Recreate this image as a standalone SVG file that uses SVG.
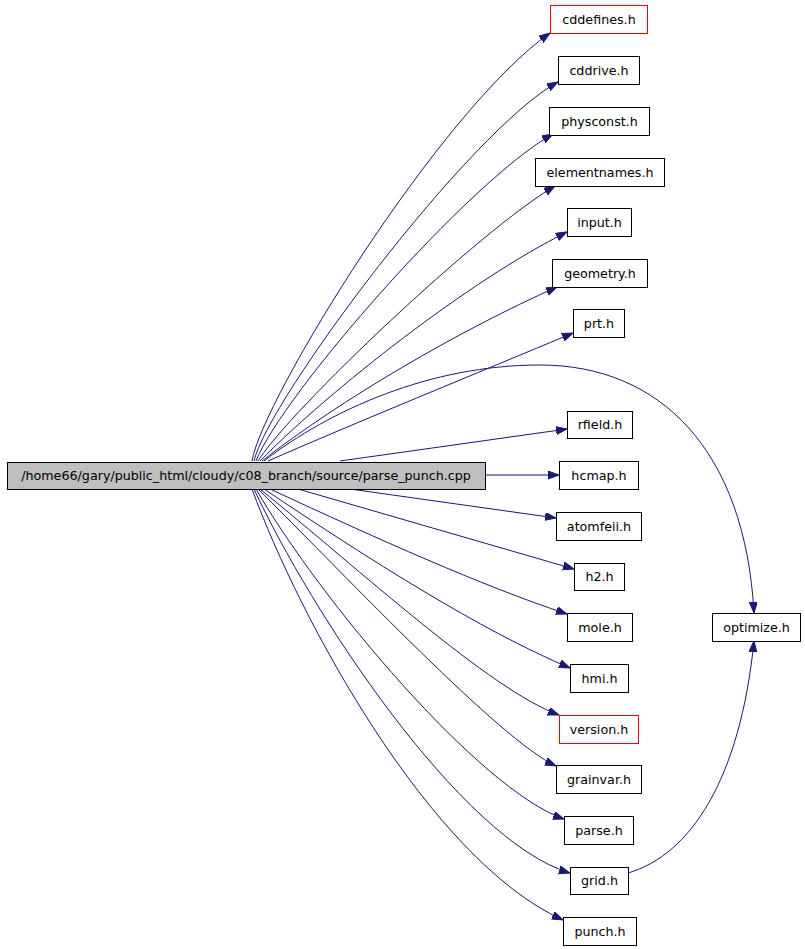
<svg xmlns="http://www.w3.org/2000/svg" width="805" height="949" viewBox="0 0 805 949">
<defs>
<style>
.n rect{fill:#ffffff;stroke:#000000;stroke-width:1}
.n.red rect{stroke:#ff0000}
.n.main rect{fill:#bfbfbf}
.n text{font-family:"DejaVu Sans","Liberation Sans",sans-serif;font-size:12.7px;fill:#000000;text-anchor:middle}
.e path{fill:none;stroke:#191970;stroke-width:1;marker-end:url(#ah)}
</style>
<marker id="ah" markerWidth="12" markerHeight="9" refX="11" refY="4" orient="auto" markerUnits="userSpaceOnUse">
<path d="M0,0 L11,4 L0,8 z" fill="#191970" stroke="#191970" stroke-width="1"/>
</marker>
</defs>
<rect width="805" height="949" fill="#ffffff"/>
<g id="edges" class="e">
<path d="M252,461 C262,400 440,110 550,33"/>
<path d="M254,461 C268,400 470,130 558,82"/>
<path d="M256,461 C282,395 470,180 553,134"/>
<path d="M258,461 C290,410 480,230 555,186"/>
<path d="M260,461 C330,390 470,280 567,232"/>
<path d="M262,461 C340,400 460,330 557,287"/>
<path d="M268,461 C350,425 480,372 573,333"/>
<path d="M264,461 C330,410 430,365 540,365 C660,365 745,450 754,613"/>
<path d="M340,461 L567,429"/>
<path d="M485,475 L559,475"/>
<path d="M350,489 L556,518"/>
<path d="M298,489 L574,569"/>
<path d="M270,489 C380,540 480,585 567,614"/>
<path d="M264,489 C370,560 480,630 570,668"/>
<path d="M260,489 C360,570 490,690 559,715"/>
<path d="M258,489 C350,580 500,740 556,766"/>
<path d="M256,489 C320,600 480,790 564,819"/>
<path d="M254,489 C310,610 460,840 570,873"/>
<path d="M252,489 C300,620 430,860 563,920"/>
<path d="M628,873 C690,855 740,780 754,641"/>
</g>
<g id="main" class="n main"><rect x="7.5" y="462.5" width="478" height="27"/><text x="246" y="480">/home66/gary/public_html/cloudy/c08_branch/source/parse_punch.cpp</text></g>
<g id="cddefines" class="n red"><rect x="550.5" y="5.5" width="97" height="28"/><text x="599" y="23.5">cddefines.h</text></g>
<g id="cddrive" class="n"><rect x="558.5" y="56.5" width="81" height="28"/><text x="599" y="74.5">cddrive.h</text></g>
<g id="physconst" class="n"><rect x="549.5" y="107.5" width="100" height="28"/><text x="599.5" y="125.5">physconst.h</text></g>
<g id="elementnames" class="n"><rect x="535.5" y="158.5" width="129" height="28"/><text x="600" y="176.5">elementnames.h</text></g>
<g id="input" class="n"><rect x="567.5" y="208.5" width="64" height="28"/><text x="599.5" y="226.5">input.h</text></g>
<g id="geometry" class="n"><rect x="552.5" y="259.5" width="95" height="28"/><text x="600" y="277.5">geometry.h</text></g>
<g id="prt" class="n"><rect x="573.5" y="309.5" width="51" height="28"/><text x="599" y="327.5">prt.h</text></g>
<g id="optimize" class="n"><rect x="712.5" y="613.5" width="88" height="28"/><text x="756.5" y="631.5">optimize.h</text></g>
<g id="rfield" class="n"><rect x="567.5" y="411.5" width="65" height="27"/><text x="600" y="429">rfield.h</text></g>
<g id="hcmap" class="n"><rect x="559.5" y="461.5" width="79" height="28"/><text x="599" y="479.5">hcmap.h</text></g>
<g id="atomfeii" class="n"><rect x="556.5" y="512.5" width="85" height="28"/><text x="599" y="530.5">atomfeii.h</text></g>
<g id="h2" class="n"><rect x="574.5" y="563.5" width="50" height="27"/><text x="599.5" y="581">h2.h</text></g>
<g id="mole" class="n"><rect x="567.5" y="613.5" width="65" height="28"/><text x="600" y="631.5">mole.h</text></g>
<g id="hmi" class="n"><rect x="570.5" y="664.5" width="58" height="28"/><text x="599.5" y="682.5">hmi.h</text></g>
<g id="version" class="n red"><rect x="559.5" y="715.5" width="79" height="28"/><text x="599" y="733.5">version.h</text></g>
<g id="grainvar" class="n"><rect x="556.5" y="765.5" width="85" height="28"/><text x="599" y="783.5">grainvar.h</text></g>
<g id="parse" class="n"><rect x="564.5" y="816.5" width="69" height="28"/><text x="599" y="834.5">parse.h</text></g>
<g id="grid" class="n"><rect x="570.5" y="867.5" width="58" height="27"/><text x="599.5" y="885">grid.h</text></g>
<g id="punch" class="n"><rect x="563.5" y="917.5" width="73" height="28"/><text x="600" y="935.5">punch.h</text></g>
</svg>
